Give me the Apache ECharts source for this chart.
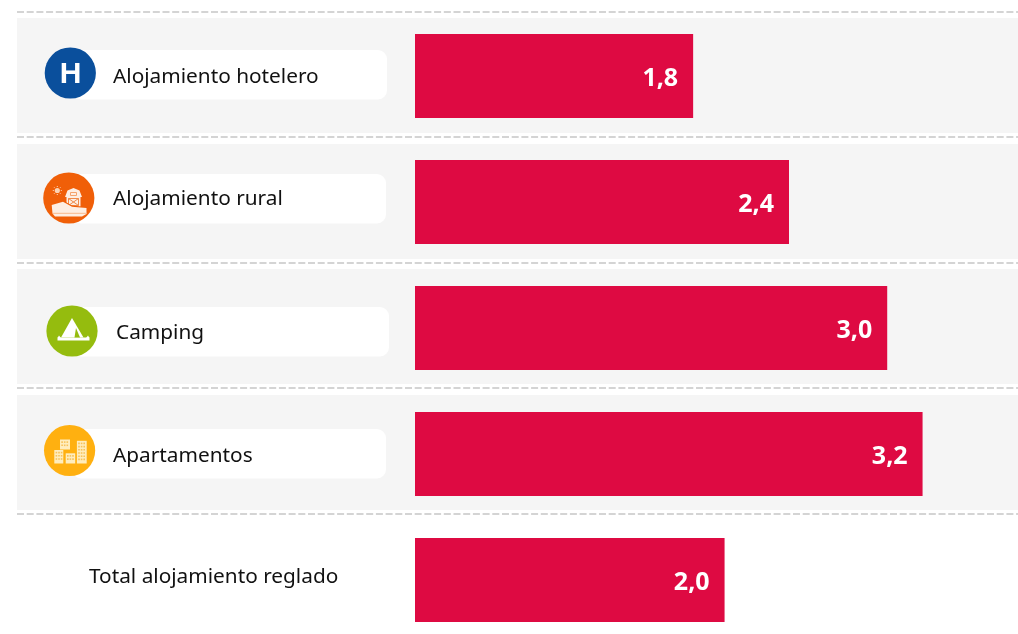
<!DOCTYPE html>
<html>
<head>
    <meta charset="utf-8" />
    <title>Alojamiento reglado</title>
    <script src="https://cdn.jsdelivr.net/npm/echarts@6/dist/echarts.min.js"></script>
    <style>
        html, body { margin: 0; padding: 0; background: #ffffff; }
    </style>
</head>
<body>
<div id="main" style="width: 1018px;height:634px;"></div>

<script type="text/javascript">
    // data (labels show one decimal)
    var categories = ['Alojamiento hotelero', 'Alojamiento rural', 'Camping', 'Apartamentos', 'Total alojamiento reglado'];
    var values = [1.77, 2.38, 3.005, 3.23, 1.97];

    var barColor = '#de0a42';
    var textFont = '"Noto Sans", "Open Sans", sans-serif';

    // decoration layout, one entry per row
    var panelTops = [18, 144, 269, 395];
    var dashYs = [12, 137, 263, 388, 514];
    var pills = [[50, 387], [174, 386], [307, 389], [429, 386]];
    var labelPos = [[113, 77], [113, 199.5], [116, 333], [113, 456], [89, 577]];

    var elements = [];

    panelTops.forEach(function (top) {
        elements.push({type: 'rect', shape: {x: 17, y: top, width: 1001, height: 115}, style: {fill: '#f5f5f5'}});
    });
    dashYs.forEach(function (y) {
        elements.push({
            type: 'line',
            shape: {x1: 17, y1: y, x2: 1018, y2: y},
            style: {stroke: '#d4d4d4', lineWidth: 2, lineDash: [7, 2.7]}
        });
    });
    pills.forEach(function (p) {
        elements.push({type: 'rect', shape: {x: 72, y: p[0], width: p[1] - 72, height: 49.5, r: 9}, style: {fill: '#ffffff'}, z: 1});
    });
    categories.forEach(function (name, i) {
        elements.push({
            type: 'text', x: labelPos[i][0], y: labelPos[i][1], z: 3,
            style: {text: name, fill: '#111111', font: '20.8px ' + textFont, textVerticalAlign: 'middle'}
        });
    });

    function circle(cx, cy, r, fill) {
        return {type: 'circle', shape: {cx: cx, cy: cy, r: r}, style: {fill: fill}, z: 2};
    }
    function poly(points, fill) {
        return {type: 'polygon', shape: {points: points}, style: {fill: fill}, z: 3};
    }
    function box(x, y, w, h, fill) {
        return {type: 'rect', shape: {x: x, y: y, width: w, height: h}, style: {fill: fill}, z: 3};
    }
    function stroke(x1, y1, x2, y2, color, width) {
        return {type: 'line', shape: {x1: x1, y1: y1, x2: x2, y2: y2}, style: {stroke: color, lineWidth: width}, z: 3};
    }

    // hotel icon
    elements.push(circle(70.3, 73, 25.6, '#0a4f9c'));
    elements.push({
        type: 'text', x: 70.5, y: 75, z: 3,
        style: {text: 'H', fill: '#ffffff', font: 'bold 30px "Liberation Sans", Arial, sans-serif', textAlign: 'center', textVerticalAlign: 'middle'}
    });

    // rural icon: sun, barn, hill
    var orange = '#f05f08', cream = '#fdeee2', sun = '#fbd3b5';
    elements.push(circle(68.8, 198, 25.6, orange));
    elements.push(circle(57.3, 190.5, 2.6, sun));
    [[0, -4.5, 0, -3.5], [0, 3.5, 0, 4.5], [-4.5, 0, -3.5, 0], [3.5, 0, 4.5, 0], [-3.3, -3.3, -2.6, -2.6], [3.3, 3.3, 2.6, 2.6], [-3.3, 3.3, -2.6, 2.6], [3.3, -3.3, 2.6, -2.6]].forEach(function (r) {
        elements.push(stroke(57.3 + r[0], 190.5 + r[1], 57.3 + r[2], 190.5 + r[3], sun, 1));
    });
    elements.push(poly([[65, 197], [67.5, 190.5], [73.5, 188], [79.5, 190.5], [82, 197], [80.5, 197], [80.5, 207], [66.5, 207], [66.5, 197]], cream));
    elements.push({type: 'rect', shape: {x: 70.5, y: 192.5, width: 6, height: 3}, style: {fill: 'none', stroke: '#f5a36c', lineWidth: 1}, z: 3});
    elements.push({type: 'rect', shape: {x: 68.5, y: 198.5, width: 10, height: 7}, style: {fill: 'none', stroke: '#f08a48', lineWidth: 1}, z: 3});
    elements.push(stroke(68.5, 198.5, 78.5, 205.5, '#f08a48', 1));
    elements.push(stroke(78.5, 198.5, 68.5, 205.5, '#f08a48', 1));
    elements.push(poly([[51, 204], [63, 200.5], [72, 205.5], [87, 207], [87, 209], [51, 209]], orange));
    elements.push(poly([[51.7, 205], [63, 201.7], [72, 206.7], [86.5, 208], [86.5, 214], [82, 216.5], [55, 216.5], [52.5, 213.5]], cream));
    elements.push(stroke(53, 213.3, 86.5, 213.3, '#f8b88c', 1));

    // camping icon
    var green = '#95bc0e';
    elements.push(circle(72, 331, 25.6, green));
    elements.push(poly([[72, 318], [83.5, 337.5], [61, 337.5]], '#ffffff'));
    elements.push(box(57.5, 337.5, 32, 3, '#ffffff'));
    elements.push(poly([[57.5, 338], [59, 335.5], [61, 338]], '#ffffff'));
    elements.push(poly([[89.5, 338], [88, 335.5], [86, 338]], '#ffffff'));
    elements.push(poly([[74.5, 337.5], [76, 328], [80, 337.5]], green));

    // apartments icon
    var amber = '#ffb010', light = '#ffedbd';
    elements.push(circle(69.6, 450.5, 25.6, amber));
    [[54.3, 450, 9, 13.5], [60, 439.5, 10, 10], [65.7, 453.3, 9.5, 10.2], [76.9, 440.8, 9.8, 22.7]].forEach(function (b) {
        elements.push(box(b[0], b[1], b[2], b[3], light));
        for (var r = b[1] + 1.8; r < b[1] + b[3] - 3; r += 3.2) {
            for (var c = 0; c < 3; c++) {
                elements.push(box(b[0] + 1.3 + c * 2.6, r, 1.6, 1.6, '#f7c25a'));
            }
        }
    });

    var myChart = echarts.init(document.getElementById('main'));
    var option = {
        backgroundColor: '#ffffff',
        animation: false,
        graphic: {elements: elements},
        // category ticks sit on the bar centres, so the grid runs from first to last bar centre
        grid: {left: 415, top: 76, width: 550, height: 504, containLabel: false},
        xAxis: {type: 'value', min: 0, max: 3.5, show: false},
        yAxis: {type: 'category', inverse: true, boundaryGap: false, data: categories, show: false},
        series: [
            {
                type: 'bar',
                data: values,
                barWidth: 84,
                clip: false,
                itemStyle: {color: barColor},
                label: {
                    show: true,
                    position: 'insideRight',
                    distance: 15,
                    offset: [0, 3],
                    color: '#ffffff',
                    fontFamily: textFont,
                    fontWeight: 'bold',
                    fontSize: 25,
                    formatter: function (p) {
                        return p.value.toFixed(1).replace('.', ',');
                    }
                }
            }
        ]
    };
    myChart.setOption(option);
</script>
</body>
</html>
